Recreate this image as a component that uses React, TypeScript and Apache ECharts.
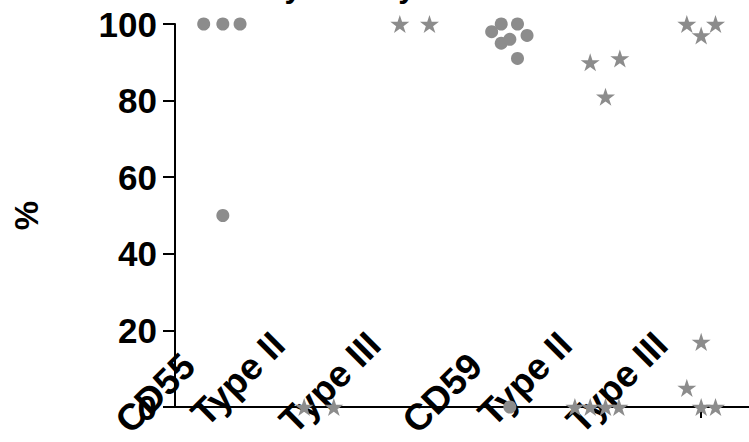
import React, { useEffect, useRef } from "react";
import * as echarts from "echarts";

const categories = ["CD55", "Type II", "Type III", "CD59", "Type II", "Type III"];
const yTickMin = 0;
const yTickMax = 100;
const yTickStep = 20;

const cd55Values = [100, 100, 100, 50];
const cd55Jitter = [-0.2, 0, 0.18, 0];
const cd55TypeIIValues = [0, 0];
const cd55TypeIIJitter = [-0.15, 0.16];
const cd55TypeIIIValues = [100, 100];
const cd55TypeIIIJitter = [-0.15, 0.16];
const cd59Values = [98, 100, 100, 97, 95, 96, 91, 0];
const cd59Jitter = [-0.19, -0.09, 0.08, 0.18, -0.09, 0, 0.08, 0];
const cd59TypeIIValues = [90, 91, 81, 0, 0, 0, 0];
const cd59TypeIIJitter = [-0.16, 0.15, 0, -0.32, -0.16, 0, 0.14];
const cd59TypeIIIValues = [100, 100, 97, 17, 5, 0, 0];
const cd59TypeIIIJitter = [-0.15, 0.15, 0, 0, -0.15, 0, 0.15];

const titleText = "Flow Cytometry";

const GRAY = "#8c8c8c";
const FONT = "'Liberation Sans', Arial, Helvetica, sans-serif";
const STAR =
  "path://M50,0L61.2,34.5L97.6,34.5L68.2,55.9L79.4,90.5L50,69.1L20.6,90.5L31.8,55.9L2.4,34.5L38.8,34.5Z";

function pts(col: number, values: number[], jitter: number[]) {
  return values.map((v, i) => [col + jitter[i], v]);
}

function scatter(name: string, data: number[][], isStar: boolean) {
  return {
    name,
    type: "scatter",
    xAxisIndex: 0,
    yAxisIndex: 0,
    data,
    symbol: isStar ? STAR : "circle",
    symbolSize: isStar ? 19 : 13,
    symbolKeepAspect: true,
    clip: false,
    itemStyle: { color: GRAY, opacity: 1 },
    z: 5,
  };
}

const isCD = (v: string) => v.indexOf("CD") === 0;

function labelAxis(gridIndex: number, margin: number, pick: (v: string) => boolean) {
  return {
    type: "category",
    gridIndex,
    position: "bottom",
    data: categories,
    boundaryGap: true,
    axisLine: { show: false, onZero: false },
    axisTick: { show: false },
    axisLabel: {
      interval: (_i: number, v: string) => pick(v),
      rotate: 45,
      margin,
      fontSize: 37,
      fontWeight: "bold",
      fontFamily: FONT,
      color: "#000",
    },
    splitLine: { show: false },
  };
}

export default function App() {
  const ref = useRef<HTMLDivElement>(null);
  useEffect(() => {
    document.body.style.margin = "0";
    const chart = echarts.init(ref.current!, null, { renderer: "svg" });
    const axisLine = { show: true, onZero: false, lineStyle: { color: "#000", width: 2 } };
    chart.setOption({
      animation: false,
      backgroundColor: "#fff",
      title: {
        text: titleText,
        left: 178,
        top: -34,
        textStyle: { fontSize: 31, fontWeight: "bold", fontFamily: FONT, color: "#000" },
      },
      grid: [
        { left: 175, right: 0, top: 24, bottom: 35 },
        { left: 141, right: 34, top: 24, bottom: 35 },
        { left: 135, right: 40, top: 24, bottom: 35 },
      ],
      xAxis: [
        {
          type: "value",
          gridIndex: 0,
          position: "bottom",
          min: -0.5,
          max: 5.5,
          axisLine,
          axisTick: { show: false },
          axisLabel: { show: false },
          splitLine: { show: false },
        },
        {
          type: "category",
          gridIndex: 0,
          position: "bottom",
          data: categories,
          boundaryGap: true,
          axisLine: { show: false, onZero: false },
          axisTick: {
            show: true,
            alignWithLabel: true,
            interval: (i: number) => i === categories.length - 1,
            length: 11,
            lineStyle: { color: "#000", width: 2 },
          },
          axisLabel: { show: false },
          splitLine: { show: false },
        },
        labelAxis(1, -2, (v) => isCD(v)),
        labelAxis(2, -23, (v) => !isCD(v)),
      ],
      yAxis: [
        {
          type: "value",
          gridIndex: 0,
          min: yTickMin,
          max: yTickMax,
          interval: yTickStep,
          axisLine,
          axisTick: { show: true, length: 12, lineStyle: { color: "#000", width: 2 } },
          axisLabel: { margin: 18, fontSize: 35, fontWeight: "bold", fontFamily: FONT, color: "#000" },
          splitLine: { show: false },
          name: "%",
          nameLocation: "middle",
          nameRotate: 90,
          nameGap: 132,
          nameTextStyle: { fontSize: 33, fontWeight: "bold", fontFamily: FONT, color: "#000" },
        },
        { type: "value", gridIndex: 1, show: false, min: 0, max: 100 },
        { type: "value", gridIndex: 2, show: false, min: 0, max: 100 },
      ],
      series: [
        scatter("CD55", pts(0, cd55Values, cd55Jitter), false),
        scatter("CD55 Type II", pts(1, cd55TypeIIValues, cd55TypeIIJitter), true),
        scatter("CD55 Type III", pts(2, cd55TypeIIIValues, cd55TypeIIIJitter), true),
        scatter("CD59", pts(3, cd59Values, cd59Jitter), false),
        scatter("CD59 Type II", pts(4, cd59TypeIIValues, cd59TypeIIJitter), true),
        scatter("CD59 Type III", pts(5, cd59TypeIIIValues, cd59TypeIIIJitter), true),
      ],
    });
    return () => chart.dispose();
  }, []);
  return <div ref={ref} style={{ width: 749, height: 442 }} />;
}
